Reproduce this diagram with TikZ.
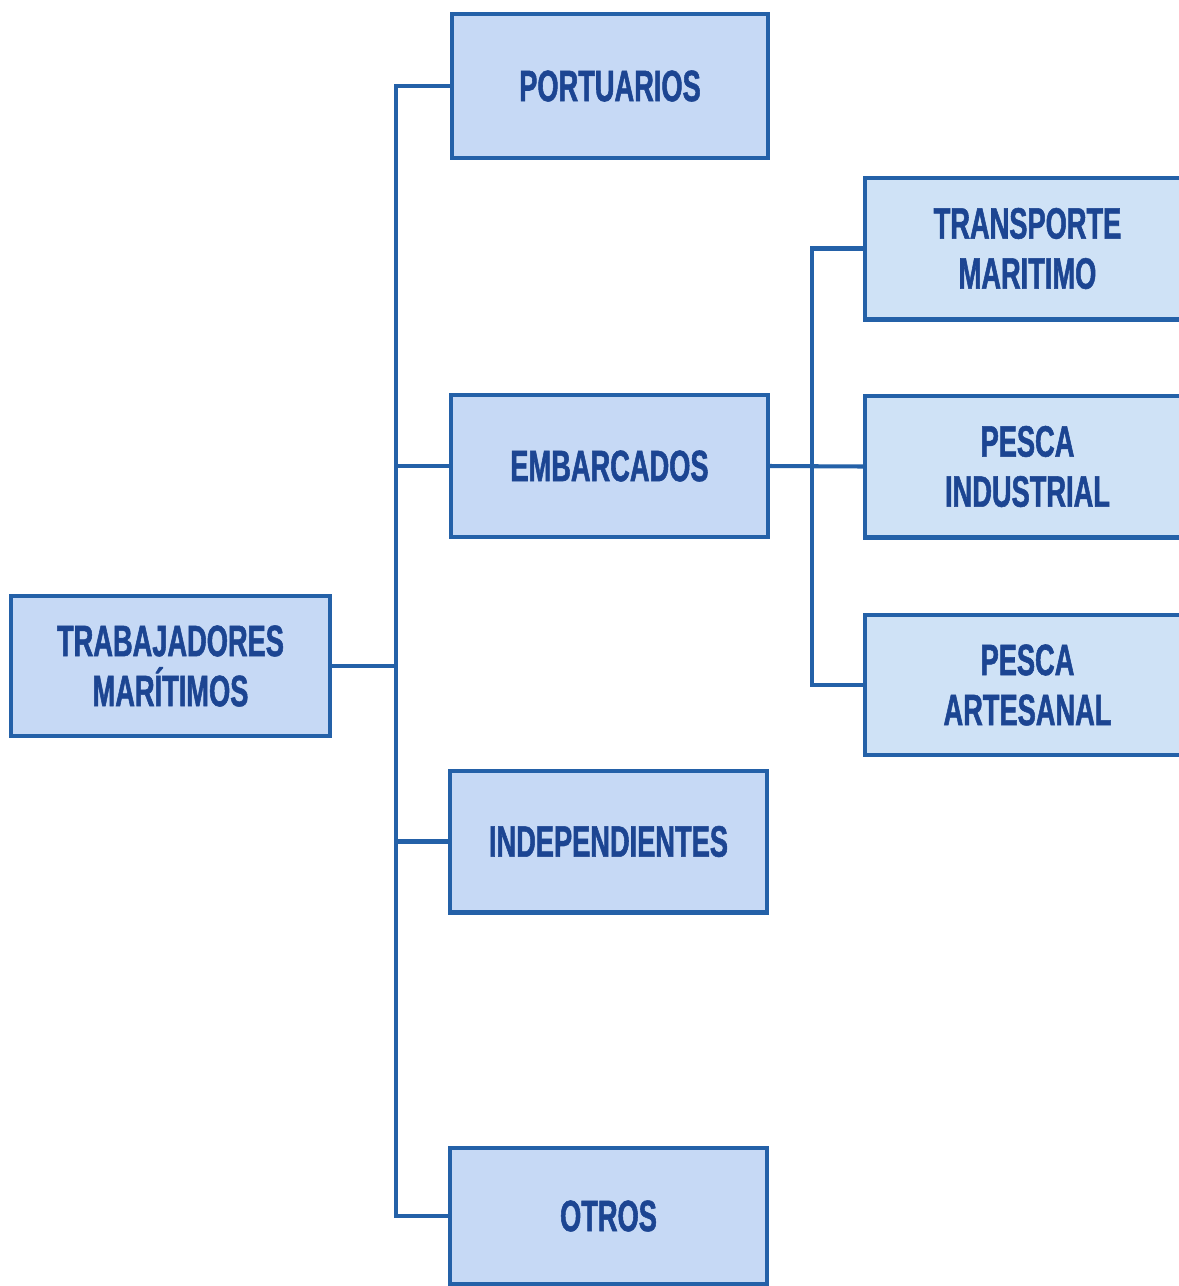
\documentclass[tikz,border=0pt]{standalone}
\usepackage{fontspec}
\newfontfamily\boxfont[FakeStretch=0.62, FakeBold=1.2]{Liberation Sans}
\definecolor{boxfill}{HTML}{C6D9F5}
\definecolor{boxfillb}{HTML}{CFE2F6}
\definecolor{boxline}{HTML}{2461A8}
\definecolor{boxtext}{HTML}{1C4592}
\tikzset{
  box/.style={draw=boxline, line width=2.3pt, fill=boxfill, inner sep=0pt,
    minimum width=6.34cm, minimum height=2.84cm, align=center,
    text=boxtext, font=\boxfont\bfseries\fontsize{25}{28.5}\selectfont},
  subbox/.style={box, fill=boxfillb, minimum width=6.5cm, minimum height=2.84cm},
  link/.style={draw=boxline, line width=2.3pt}
}
\begin{document}
\begin{tikzpicture}[x=0.02cm, y=-0.02cm]
\useasboundingbox (0,0) rectangle (1179,1286);
\clip (0,0) rectangle (1179,1286);
\node[box, minimum width=6.38cm, minimum height=2.8cm] (trab) at (170.5,666) {TRABAJADORES\\MARÍTIMOS};
\node[box, minimum height=2.88cm] (port) at (610,86) {PORTUARIOS};
\node[box] (emb) at (609.5,466) {EMBARCADOS};
\node[box] (indep) at (608.5,841.5) {INDEPENDIENTES};
\node[box, minimum height=2.72cm] (otros) at (608.5,1216) {OTROS};
\node[subbox] (transp) at (1027.5,248.5) {TRANSPORTE\\MARITIMO};
\node[subbox] (pind) at (1027.5,466.5) {PESCA\\INDUSTRIAL};
\node[subbox, minimum height=2.8cm] (part) at (1027.5,685) {PESCA\\ARTESANAL};
\coordinate (jx) at (396,466);
\coordinate (jy) at (812,466);
\draw[link] (port.west) -| (jx) |- (otros.west);
\draw[link] (emb.west) -- (emb.west -| jx);
\draw[link] (indep.west) -- (indep.west -| jx);
\draw[link] (trab.east) -- (trab.east -| jx);
\draw[link] (transp.west) -| (jy) |- (part.west);
\draw[link] (emb.east) -- (pind.west);
\end{tikzpicture}
\end{document}
